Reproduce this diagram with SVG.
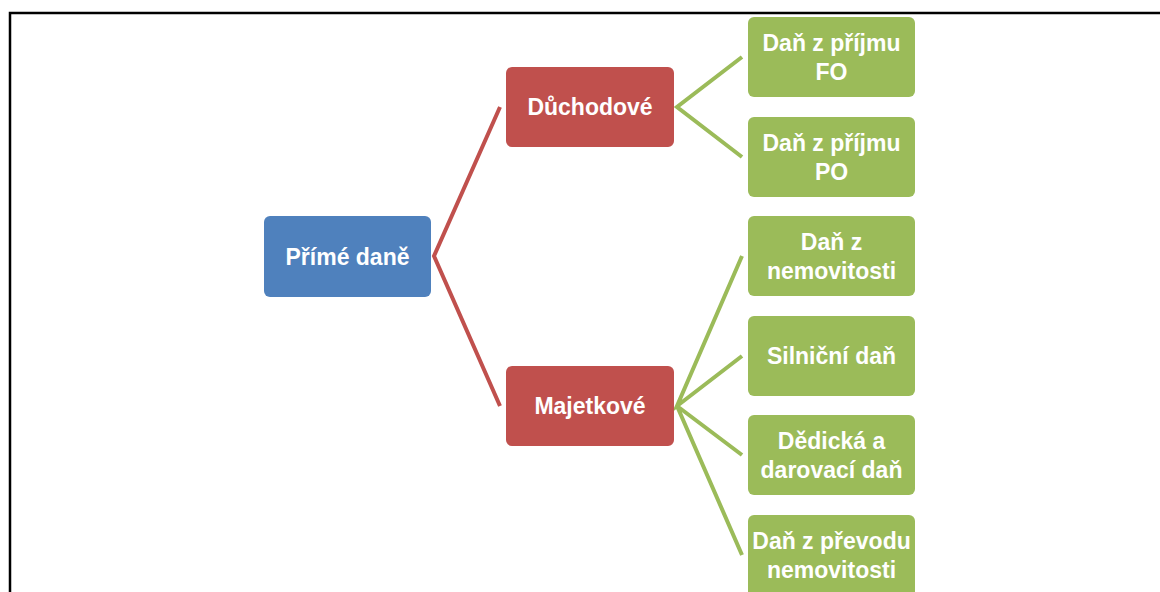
<svg xmlns="http://www.w3.org/2000/svg" width="1160" height="592" viewBox="0 0 1160 592">
<style>
.t{font-family:"Liberation Sans",Arial,sans-serif;font-weight:bold;font-size:23px;fill:#fff;text-anchor:middle}
.b{fill:#4F81BD}
.r{fill:#C0504D}
.g{fill:#9BBB59}
.cr{stroke:#C0504D;stroke-width:4;fill:none}
.cg{stroke:#9BBB59;stroke-width:4;fill:none}
</style>
<rect x="0" y="0" width="1160" height="592" fill="#fff"/>
<path d="M10 592 V13 H1160" fill="none" stroke="#000" stroke-width="2.5"/>
<g id="connectors">
<path class="cr" d="M500 107 L434 256 L500 406"/>
<path class="cg" d="M742 57 L677 107 L742 157"/>
<path class="cg" d="M742 256 L677 406 L742 356 M677 406 L742 455 M677 406 L742 555"/>
</g>
<g id="n-prime"><rect class="b" x="264" y="216" width="167" height="81" rx="6"/><text class="t" x="347.5" y="265">Přímé daně</text></g>
<g id="n-duchodove"><rect class="r" x="506" y="67" width="168" height="80" rx="6"/><text class="t" x="590" y="115">Důchodové</text></g>
<g id="n-majetkove"><rect class="r" x="506" y="366" width="168" height="80" rx="6"/><text class="t" x="590" y="414">Majetkové</text></g>
<g id="n-fo"><rect class="g" x="748" y="17" width="167" height="80" rx="6"/><text class="t" x="831.5" y="51">Daň z příjmu</text><text class="t" x="831.5" y="80">FO</text></g>
<g id="n-po"><rect class="g" x="748" y="117" width="167" height="80" rx="6"/><text class="t" x="831.5" y="151">Daň z příjmu</text><text class="t" x="831.5" y="180">PO</text></g>
<g id="n-nem"><rect class="g" x="748" y="216" width="167" height="80" rx="6"/><text class="t" x="831.5" y="250">Daň z</text><text class="t" x="831.5" y="279">nemovitosti</text></g>
<g id="n-siln"><rect class="g" x="748" y="316" width="167" height="80" rx="6"/><text class="t" x="831.5" y="364">Silniční daň</text></g>
<g id="n-ded"><rect class="g" x="748" y="415" width="167" height="80" rx="6"/><text class="t" x="831.5" y="449">Dědická a</text><text class="t" x="831.5" y="478">darovací daň</text></g>
<g id="n-prev"><rect class="g" x="748" y="515" width="167" height="84" rx="6"/><text class="t" x="831.5" y="549">Daň z převodu</text><text class="t" x="831.5" y="578">nemovitosti</text></g>
</svg>
